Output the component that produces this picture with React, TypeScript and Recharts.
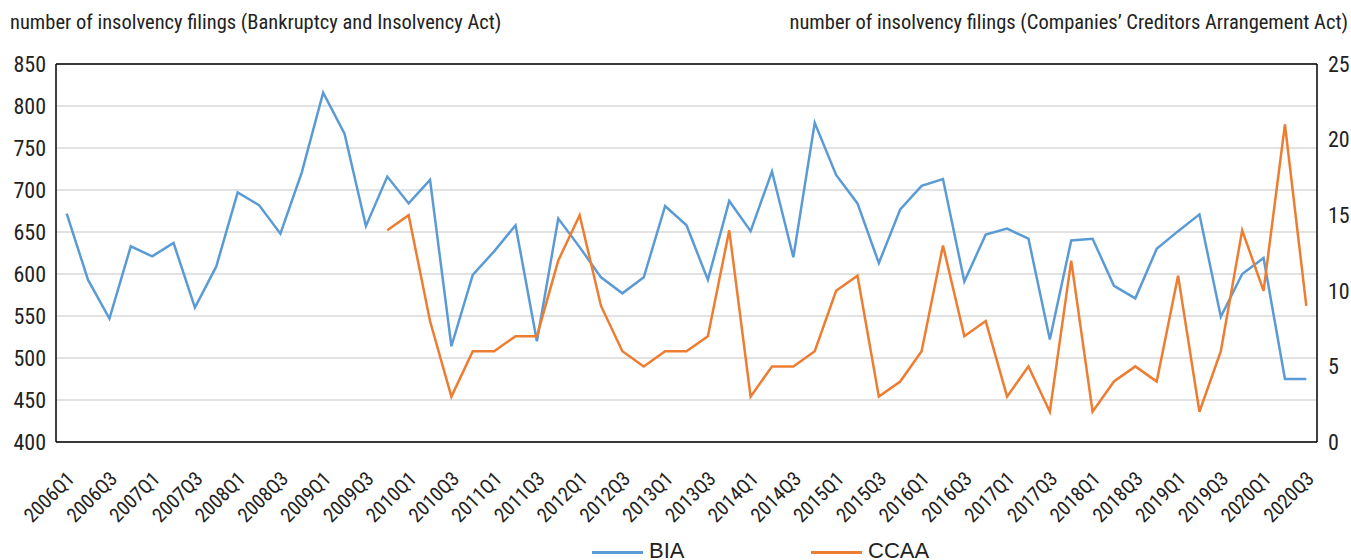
import React from "react";
import {
  LineChart,
  Line,
  XAxis,
  YAxis,
  CartesianGrid,
  ReferenceLine,
  Legend,
} from "recharts";

const QUARTERS = [
  "2006Q1", "2006Q2", "2006Q3", "2006Q4",
  "2007Q1", "2007Q2", "2007Q3", "2007Q4",
  "2008Q1", "2008Q2", "2008Q3", "2008Q4",
  "2009Q1", "2009Q2", "2009Q3", "2009Q4",
  "2010Q1", "2010Q2", "2010Q3", "2010Q4",
  "2011Q1", "2011Q2", "2011Q3", "2011Q4",
  "2012Q1", "2012Q2", "2012Q3", "2012Q4",
  "2013Q1", "2013Q2", "2013Q3", "2013Q4",
  "2014Q1", "2014Q2", "2014Q3", "2014Q4",
  "2015Q1", "2015Q2", "2015Q3", "2015Q4",
  "2016Q1", "2016Q2", "2016Q3", "2016Q4",
  "2017Q1", "2017Q2", "2017Q3", "2017Q4",
  "2018Q1", "2018Q2", "2018Q3", "2018Q4",
  "2019Q1", "2019Q2", "2019Q3", "2019Q4",
  "2020Q1", "2020Q2", "2020Q3",
];

// Bankruptcy and Insolvency Act filings (left axis)
const BIA = [
  672, 593, 547, 633, 621, 637, 560, 609,
  697, 682, 648, 721, 816, 767, 657, 716,
  684, 712, 514, 599, 627, 658, 520, 666,
  632, 596, 577, 596, 681, 658, 593, 687,
  651, 722, 620, 780, 718, 684, 613, 677,
  705, 713, 591, 647, 654, 642, 522, 640,
  642, 586, 571, 630, 651, 671, 549, 600,
  619, 475, 475,
];

// Companies' Creditors Arrangement Act filings (right axis), starts 2009Q4
const CCAA: (number | null)[] = [
  null, null, null, null, null, null, null, null,
  null, null, null, null, null, null, null, 14,
  15, 8, 3, 6, 6, 7, 7, 12,
  15, 9, 6, 5, 6, 6, 7, 14,
  3, 5, 5, 6, 10, 11, 3, 4,
  6, 13, 7, 8, 3, 5, 2, 12,
  2, 4, 5, 4, 11, 2, 6, 14,
  10, 21, 9,
];

const LEFT_TICKS = [400, 450, 500, 550, 600, 650, 700, 750, 800, 850];
const RIGHT_TICKS = [0, 5, 10, 15, 20, 25];

const data = QUARTERS.map((q, i) => ({ q, bia: BIA[i], ccaa: CCAA[i] }));

const FONT =
  "'Liberation Sans Narrow', 'Roboto Condensed', 'DejaVu Sans Condensed', 'Liberation Sans', sans-serif";
const LEGEND_FONT = "'Liberation Sans', Arial, sans-serif";
const BLUE = "#5B9BD5";
const ORANGE = "#ED7D31";
const TEXT = "#222";

const QuarterTick = (props: any) => {
  const { x, y, payload } = props;
  const ax = x + 9;
  const ay = y + 38;
  return (
    <text
      x={ax}
      y={ay}
      transform={`rotate(-45 ${ax} ${ay})`}
      textAnchor="end"
      fill={TEXT}
      fontSize={20}
      fontFamily={FONT}
    >
      {payload.value}
    </text>
  );
};

const renderLegend = () => (
  <div style={{ position: "relative", width: 1351, height: 30, fontFamily: LEGEND_FONT }}>
    {[
      { name: "BIA", color: BLUE, left: 592 },
      { name: "CCAA", color: ORANGE, left: 811 },
    ].map((it) => (
      <React.Fragment key={it.name}>
        <div
          style={{ position: "absolute", left: it.left, top: 21, width: 51, height: 3, background: it.color }}
        />
        <span
          style={{
            position: "absolute",
            left: it.left + 57,
            top: 10,
            fontSize: 22,
            lineHeight: "22px",
            color: TEXT,
            whiteSpace: "nowrap",
          }}
        >
          {it.name}
        </span>
      </React.Fragment>
    ))}
  </div>
);

export default function App() {
  return (
    <div style={{ position: "absolute", left: 0, top: 0, width: 1351, height: 560, background: "#fff", overflow: "hidden" }}>
      <div style={{ position: "absolute", left: 10, top: 10, fontFamily: FONT, fontSize: 20.5, color: TEXT, whiteSpace: "nowrap" }}>
        number of insolvency filings (Bankruptcy and Insolvency Act)
      </div>
      <div style={{ position: "absolute", right: 3, top: 10, fontFamily: FONT, fontSize: 20.5, color: TEXT, whiteSpace: "nowrap" }}>
        number of insolvency filings (Companies’ Creditors Arrangement Act)
      </div>
      <LineChart
        width={1351}
        height={560}
        data={data}
        margin={{ top: 64, right: 0, bottom: 0, left: 0 }}
      >
        <CartesianGrid yAxisId="left" vertical={false} stroke="#d9d9d9" strokeWidth={1.5} />
        <XAxis
          dataKey="q"
          scale="band"
          interval={1}
          height={118}
          tickLine={false}
          tickSize={0}
          tickMargin={0}
          axisLine={{ stroke: "#000", strokeWidth: 1.5 }}
          tick={<QuarterTick />}
        />
        <YAxis
          yAxisId="left"
          domain={[400, 850]}
          ticks={LEFT_TICKS}
          width={56}
          tickLine={false}
          tickMargin={4}
          axisLine={{ stroke: "#000", strokeWidth: 1.5 }}
          tick={{ fill: TEXT, fontSize: 22, fontFamily: FONT }}
        />
        <YAxis
          yAxisId="right"
          orientation="right"
          domain={[0, 25]}
          ticks={RIGHT_TICKS}
          width={34}
          tickLine={false}
          tickMargin={5}
          axisLine={{ stroke: "#000", strokeWidth: 1.5 }}
          tick={{ fill: TEXT, fontSize: 22, fontFamily: FONT, textAnchor: "start" }}
        />
        <ReferenceLine yAxisId="left" y={850} stroke="#000" strokeWidth={1.5} />
        <Legend
          layout="horizontal"
          verticalAlign="middle"
          content={renderLegend}
          wrapperStyle={{ top: 530, left: 0, width: 1351 }}
        />
        <Line
          yAxisId="left"
          dataKey="bia"
          name="BIA"
          stroke={BLUE}
          strokeWidth={2.5}
          dot={false}
          isAnimationActive={false}
        />
        <Line
          yAxisId="right"
          dataKey="ccaa"
          name="CCAA"
          stroke={ORANGE}
          strokeWidth={2.5}
          dot={false}
          isAnimationActive={false}
        />
      </LineChart>
    </div>
  );
}
